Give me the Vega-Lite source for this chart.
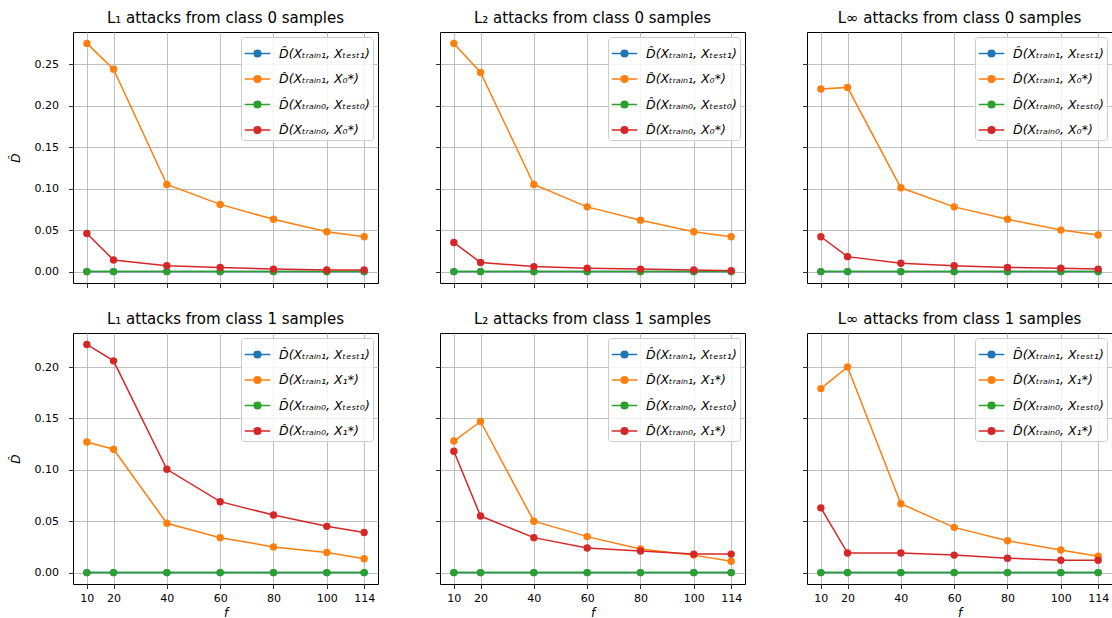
{
  "$schema": "https://vega.github.io/schema/vega-lite/v6.json",
  "background": "white",
  "padding": {"left": 8, "top": 10, "right": 0, "bottom": 0},
  "config": {
    "font": "DejaVu Sans",
    "view": {"stroke": "black", "strokeWidth": 1},
    "axis": {"domain": false, "grid": true, "gridColor": "#b0b0b0", "gridWidth": 0.8, "ticks": true, "tickColor": "black", "tickSize": 4.5, "tickWidth": 0.8, "labelFont": "DejaVu Sans", "labelFontSize": 11, "labelColor": "black", "titleFont": "DejaVu Sans", "titleFontWeight": "normal", "titleFontStyle": "italic", "titleFontSize": 12, "titleColor": "black", "labelOverlap": false},
    "axisX": {"labelFlush": false, "labelPadding": 4, "titlePadding": 4},
    "axisY": {"labelPadding": 10, "titlePadding": 12},
    "title": {"font": "DejaVu Sans", "fontSize": 15, "fontWeight": "normal", "color": "black", "offset": 6, "anchor": "middle"},
    "legend": {"orient": "top-right", "offset": 5, "fillColor": "rgba(255,255,255,0.8)", "strokeColor": "#cccccc", "cornerRadius": 3, "padding": 3, "labelFont": "DejaVu Sans", "labelFontSize": 12.5, "labelFontStyle": "italic", "labelColor": "black", "labelOffset": 8, "rowPadding": 5.5, "labelLimit": 0, "symbolSize": 650, "symbolStrokeWidth": 1.5}
  },
  "datasets": {
    "d": [
      {"p": "L1c0", "s": "b", "f": 10, "D": 0}, {"p": "L1c0", "s": "b", "f": 20, "D": 0}, {"p": "L1c0", "s": "b", "f": 40, "D": 0}, {"p": "L1c0", "s": "b", "f": 60, "D": 0}, {"p": "L1c0", "s": "b", "f": 80, "D": 0}, {"p": "L1c0", "s": "b", "f": 100, "D": 0}, {"p": "L1c0", "s": "b", "f": 114, "D": 0},
      {"p": "L1c0", "s": "o", "f": 10, "D": 0.275}, {"p": "L1c0", "s": "o", "f": 20, "D": 0.244}, {"p": "L1c0", "s": "o", "f": 40, "D": 0.105}, {"p": "L1c0", "s": "o", "f": 60, "D": 0.081}, {"p": "L1c0", "s": "o", "f": 80, "D": 0.063}, {"p": "L1c0", "s": "o", "f": 100, "D": 0.048}, {"p": "L1c0", "s": "o", "f": 114, "D": 0.042},
      {"p": "L1c0", "s": "g", "f": 10, "D": 0}, {"p": "L1c0", "s": "g", "f": 20, "D": 0}, {"p": "L1c0", "s": "g", "f": 40, "D": 0}, {"p": "L1c0", "s": "g", "f": 60, "D": 0}, {"p": "L1c0", "s": "g", "f": 80, "D": 0}, {"p": "L1c0", "s": "g", "f": 100, "D": 0}, {"p": "L1c0", "s": "g", "f": 114, "D": 0},
      {"p": "L1c0", "s": "r", "f": 10, "D": 0.046}, {"p": "L1c0", "s": "r", "f": 20, "D": 0.014}, {"p": "L1c0", "s": "r", "f": 40, "D": 0.007}, {"p": "L1c0", "s": "r", "f": 60, "D": 0.005}, {"p": "L1c0", "s": "r", "f": 80, "D": 0.003}, {"p": "L1c0", "s": "r", "f": 100, "D": 0.002}, {"p": "L1c0", "s": "r", "f": 114, "D": 0.002},

      {"p": "L2c0", "s": "b", "f": 10, "D": 0}, {"p": "L2c0", "s": "b", "f": 20, "D": 0}, {"p": "L2c0", "s": "b", "f": 40, "D": 0}, {"p": "L2c0", "s": "b", "f": 60, "D": 0}, {"p": "L2c0", "s": "b", "f": 80, "D": 0}, {"p": "L2c0", "s": "b", "f": 100, "D": 0}, {"p": "L2c0", "s": "b", "f": 114, "D": 0},
      {"p": "L2c0", "s": "o", "f": 10, "D": 0.275}, {"p": "L2c0", "s": "o", "f": 20, "D": 0.240}, {"p": "L2c0", "s": "o", "f": 40, "D": 0.105}, {"p": "L2c0", "s": "o", "f": 60, "D": 0.078}, {"p": "L2c0", "s": "o", "f": 80, "D": 0.062}, {"p": "L2c0", "s": "o", "f": 100, "D": 0.048}, {"p": "L2c0", "s": "o", "f": 114, "D": 0.042},
      {"p": "L2c0", "s": "g", "f": 10, "D": 0}, {"p": "L2c0", "s": "g", "f": 20, "D": 0}, {"p": "L2c0", "s": "g", "f": 40, "D": 0}, {"p": "L2c0", "s": "g", "f": 60, "D": 0}, {"p": "L2c0", "s": "g", "f": 80, "D": 0}, {"p": "L2c0", "s": "g", "f": 100, "D": 0}, {"p": "L2c0", "s": "g", "f": 114, "D": 0},
      {"p": "L2c0", "s": "r", "f": 10, "D": 0.035}, {"p": "L2c0", "s": "r", "f": 20, "D": 0.011}, {"p": "L2c0", "s": "r", "f": 40, "D": 0.006}, {"p": "L2c0", "s": "r", "f": 60, "D": 0.004}, {"p": "L2c0", "s": "r", "f": 80, "D": 0.003}, {"p": "L2c0", "s": "r", "f": 100, "D": 0.002}, {"p": "L2c0", "s": "r", "f": 114, "D": 0.001},

      {"p": "Lic0", "s": "b", "f": 10, "D": 0}, {"p": "Lic0", "s": "b", "f": 20, "D": 0}, {"p": "Lic0", "s": "b", "f": 40, "D": 0}, {"p": "Lic0", "s": "b", "f": 60, "D": 0}, {"p": "Lic0", "s": "b", "f": 80, "D": 0}, {"p": "Lic0", "s": "b", "f": 100, "D": 0}, {"p": "Lic0", "s": "b", "f": 114, "D": 0},
      {"p": "Lic0", "s": "o", "f": 10, "D": 0.220}, {"p": "Lic0", "s": "o", "f": 20, "D": 0.222}, {"p": "Lic0", "s": "o", "f": 40, "D": 0.101}, {"p": "Lic0", "s": "o", "f": 60, "D": 0.078}, {"p": "Lic0", "s": "o", "f": 80, "D": 0.063}, {"p": "Lic0", "s": "o", "f": 100, "D": 0.050}, {"p": "Lic0", "s": "o", "f": 114, "D": 0.044},
      {"p": "Lic0", "s": "g", "f": 10, "D": 0}, {"p": "Lic0", "s": "g", "f": 20, "D": 0}, {"p": "Lic0", "s": "g", "f": 40, "D": 0}, {"p": "Lic0", "s": "g", "f": 60, "D": 0}, {"p": "Lic0", "s": "g", "f": 80, "D": 0}, {"p": "Lic0", "s": "g", "f": 100, "D": 0}, {"p": "Lic0", "s": "g", "f": 114, "D": 0},
      {"p": "Lic0", "s": "r", "f": 10, "D": 0.042}, {"p": "Lic0", "s": "r", "f": 20, "D": 0.018}, {"p": "Lic0", "s": "r", "f": 40, "D": 0.010}, {"p": "Lic0", "s": "r", "f": 60, "D": 0.007}, {"p": "Lic0", "s": "r", "f": 80, "D": 0.005}, {"p": "Lic0", "s": "r", "f": 100, "D": 0.004}, {"p": "Lic0", "s": "r", "f": 114, "D": 0.003},

      {"p": "L1c1", "s": "b", "f": 10, "D": 0}, {"p": "L1c1", "s": "b", "f": 20, "D": 0}, {"p": "L1c1", "s": "b", "f": 40, "D": 0}, {"p": "L1c1", "s": "b", "f": 60, "D": 0}, {"p": "L1c1", "s": "b", "f": 80, "D": 0}, {"p": "L1c1", "s": "b", "f": 100, "D": 0}, {"p": "L1c1", "s": "b", "f": 114, "D": 0},
      {"p": "L1c1", "s": "o", "f": 10, "D": 0.127}, {"p": "L1c1", "s": "o", "f": 20, "D": 0.120}, {"p": "L1c1", "s": "o", "f": 40, "D": 0.048}, {"p": "L1c1", "s": "o", "f": 60, "D": 0.034}, {"p": "L1c1", "s": "o", "f": 80, "D": 0.025}, {"p": "L1c1", "s": "o", "f": 100, "D": 0.0195}, {"p": "L1c1", "s": "o", "f": 114, "D": 0.0135},
      {"p": "L1c1", "s": "g", "f": 10, "D": 0}, {"p": "L1c1", "s": "g", "f": 20, "D": 0}, {"p": "L1c1", "s": "g", "f": 40, "D": 0}, {"p": "L1c1", "s": "g", "f": 60, "D": 0}, {"p": "L1c1", "s": "g", "f": 80, "D": 0}, {"p": "L1c1", "s": "g", "f": 100, "D": 0}, {"p": "L1c1", "s": "g", "f": 114, "D": 0},
      {"p": "L1c1", "s": "r", "f": 10, "D": 0.222}, {"p": "L1c1", "s": "r", "f": 20, "D": 0.206}, {"p": "L1c1", "s": "r", "f": 40, "D": 0.1005}, {"p": "L1c1", "s": "r", "f": 60, "D": 0.069}, {"p": "L1c1", "s": "r", "f": 80, "D": 0.056}, {"p": "L1c1", "s": "r", "f": 100, "D": 0.045}, {"p": "L1c1", "s": "r", "f": 114, "D": 0.039},

      {"p": "L2c1", "s": "b", "f": 10, "D": 0}, {"p": "L2c1", "s": "b", "f": 20, "D": 0}, {"p": "L2c1", "s": "b", "f": 40, "D": 0}, {"p": "L2c1", "s": "b", "f": 60, "D": 0}, {"p": "L2c1", "s": "b", "f": 80, "D": 0}, {"p": "L2c1", "s": "b", "f": 100, "D": 0}, {"p": "L2c1", "s": "b", "f": 114, "D": 0},
      {"p": "L2c1", "s": "o", "f": 10, "D": 0.128}, {"p": "L2c1", "s": "o", "f": 20, "D": 0.147}, {"p": "L2c1", "s": "o", "f": 40, "D": 0.050}, {"p": "L2c1", "s": "o", "f": 60, "D": 0.035}, {"p": "L2c1", "s": "o", "f": 80, "D": 0.023}, {"p": "L2c1", "s": "o", "f": 100, "D": 0.017}, {"p": "L2c1", "s": "o", "f": 114, "D": 0.011},
      {"p": "L2c1", "s": "g", "f": 10, "D": 0}, {"p": "L2c1", "s": "g", "f": 20, "D": 0}, {"p": "L2c1", "s": "g", "f": 40, "D": 0}, {"p": "L2c1", "s": "g", "f": 60, "D": 0}, {"p": "L2c1", "s": "g", "f": 80, "D": 0}, {"p": "L2c1", "s": "g", "f": 100, "D": 0}, {"p": "L2c1", "s": "g", "f": 114, "D": 0},
      {"p": "L2c1", "s": "r", "f": 10, "D": 0.118}, {"p": "L2c1", "s": "r", "f": 20, "D": 0.055}, {"p": "L2c1", "s": "r", "f": 40, "D": 0.034}, {"p": "L2c1", "s": "r", "f": 60, "D": 0.024}, {"p": "L2c1", "s": "r", "f": 80, "D": 0.021}, {"p": "L2c1", "s": "r", "f": 100, "D": 0.018}, {"p": "L2c1", "s": "r", "f": 114, "D": 0.018},

      {"p": "Lic1", "s": "b", "f": 10, "D": 0}, {"p": "Lic1", "s": "b", "f": 20, "D": 0}, {"p": "Lic1", "s": "b", "f": 40, "D": 0}, {"p": "Lic1", "s": "b", "f": 60, "D": 0}, {"p": "Lic1", "s": "b", "f": 80, "D": 0}, {"p": "Lic1", "s": "b", "f": 100, "D": 0}, {"p": "Lic1", "s": "b", "f": 114, "D": 0},
      {"p": "Lic1", "s": "o", "f": 10, "D": 0.179}, {"p": "Lic1", "s": "o", "f": 20, "D": 0.200}, {"p": "Lic1", "s": "o", "f": 40, "D": 0.067}, {"p": "Lic1", "s": "o", "f": 60, "D": 0.044}, {"p": "Lic1", "s": "o", "f": 80, "D": 0.031}, {"p": "Lic1", "s": "o", "f": 100, "D": 0.022}, {"p": "Lic1", "s": "o", "f": 114, "D": 0.016},
      {"p": "Lic1", "s": "g", "f": 10, "D": 0}, {"p": "Lic1", "s": "g", "f": 20, "D": 0}, {"p": "Lic1", "s": "g", "f": 40, "D": 0}, {"p": "Lic1", "s": "g", "f": 60, "D": 0}, {"p": "Lic1", "s": "g", "f": 80, "D": 0}, {"p": "Lic1", "s": "g", "f": 100, "D": 0}, {"p": "Lic1", "s": "g", "f": 114, "D": 0},
      {"p": "Lic1", "s": "r", "f": 10, "D": 0.063}, {"p": "Lic1", "s": "r", "f": 20, "D": 0.019}, {"p": "Lic1", "s": "r", "f": 40, "D": 0.019}, {"p": "Lic1", "s": "r", "f": 60, "D": 0.017}, {"p": "Lic1", "s": "r", "f": 80, "D": 0.014}, {"p": "Lic1", "s": "r", "f": 100, "D": 0.012}, {"p": "Lic1", "s": "r", "f": 114, "D": 0.012}
    ]
  },
  "data": {"name": "d"},
  "columns": 3,
  "spacing": {"row": 50, "column": 62},
  "bounds": "flush",
  "resolve": {"scale": {"x": "independent", "y": "independent", "color": "independent"}, "axis": {"x": "independent", "y": "independent"}, "legend": {"color": "independent"}},
  "concat": [
    {
      "width": 305, "height": 251,
      "title": "L₁ attacks from class 0 samples",
      "transform": [{"filter": "datum.p == 'L1c0'"}],
      "mark": {"type": "line", "strokeWidth": 1.5, "point": {"filled": true, "size": 55, "opacity": 1}},
      "encoding": {
        "x": {"field": "f", "type": "quantitative", "scale": {"domain": [4.8, 119.2], "nice": false, "zero": false}, "axis": {"values": [10, 20, 40, 60, 80, 100, 114], "labels": false, "title": null}},
        "y": {"field": "D", "type": "quantitative", "scale": {"domain": [-0.01375, 0.28875], "nice": false, "zero": false}, "axis": {"values": [0, 0.05, 0.1, 0.15, 0.2, 0.25], "format": ".2f", "title": "D̂"}},
        "color": {"field": "s", "type": "nominal", "sort": null, "scale": {"domain": ["b", "o", "g", "r"], "range": ["#1f77b4", "#ff7f0e", "#2ca02c", "#d62728"]}, "legend": {"title": null, "symbolType": "M-1,0H1M-0.04,0A0.04,0.04 0 1,0 0.04,0A0.04,0.04 0 1,0 -0.04,0M-0.12,0A0.12,0.12 0 1,0 0.12,0A0.12,0.12 0 1,0 -0.12,0M-0.2,0A0.2,0.2 0 1,0 0.2,0A0.2,0.2 0 1,0 -0.2,0M-0.26,0A0.26,0.26 0 1,0 0.26,0A0.26,0.26 0 1,0 -0.26,0", "labelExpr": "datum.value == 'b' ? 'D̂(Xₜᵣₐᵢₙ₁, Xₜₑₛₜ₁)' : datum.value == 'o' ? 'D̂(Xₜᵣₐᵢₙ₁, X₀*)' : datum.value == 'g' ? 'D̂(Xₜᵣₐᵢₙ₀, Xₜₑₛₜ₀)' : 'D̂(Xₜᵣₐᵢₙ₀, X₀*)'"}}
      }
    },
    {
      "width": 305, "height": 251,
      "title": "L₂ attacks from class 0 samples",
      "transform": [{"filter": "datum.p == 'L2c0'"}],
      "mark": {"type": "line", "strokeWidth": 1.5, "point": {"filled": true, "size": 55, "opacity": 1}},
      "encoding": {
        "x": {"field": "f", "type": "quantitative", "scale": {"domain": [4.8, 119.2], "nice": false, "zero": false}, "axis": {"values": [10, 20, 40, 60, 80, 100, 114], "labels": false, "title": null}},
        "y": {"field": "D", "type": "quantitative", "scale": {"domain": [-0.01375, 0.28875], "nice": false, "zero": false}, "axis": {"values": [0, 0.05, 0.1, 0.15, 0.2, 0.25], "labels": false, "title": null}},
        "color": {"field": "s", "type": "nominal", "sort": null, "scale": {"domain": ["b", "o", "g", "r"], "range": ["#1f77b4", "#ff7f0e", "#2ca02c", "#d62728"]}, "legend": {"title": null, "symbolType": "M-1,0H1M-0.04,0A0.04,0.04 0 1,0 0.04,0A0.04,0.04 0 1,0 -0.04,0M-0.12,0A0.12,0.12 0 1,0 0.12,0A0.12,0.12 0 1,0 -0.12,0M-0.2,0A0.2,0.2 0 1,0 0.2,0A0.2,0.2 0 1,0 -0.2,0M-0.26,0A0.26,0.26 0 1,0 0.26,0A0.26,0.26 0 1,0 -0.26,0", "labelExpr": "datum.value == 'b' ? 'D̂(Xₜᵣₐᵢₙ₁, Xₜₑₛₜ₁)' : datum.value == 'o' ? 'D̂(Xₜᵣₐᵢₙ₁, X₀*)' : datum.value == 'g' ? 'D̂(Xₜᵣₐᵢₙ₀, Xₜₑₛₜ₀)' : 'D̂(Xₜᵣₐᵢₙ₀, X₀*)'"}}
      }
    },
    {
      "width": 305, "height": 251,
      "title": "L∞ attacks from class 0 samples",
      "transform": [{"filter": "datum.p == 'Lic0'"}],
      "mark": {"type": "line", "strokeWidth": 1.5, "point": {"filled": true, "size": 55, "opacity": 1}},
      "encoding": {
        "x": {"field": "f", "type": "quantitative", "scale": {"domain": [4.8, 119.2], "nice": false, "zero": false}, "axis": {"values": [10, 20, 40, 60, 80, 100, 114], "labels": false, "title": null}},
        "y": {"field": "D", "type": "quantitative", "scale": {"domain": [-0.01375, 0.28875], "nice": false, "zero": false}, "axis": {"values": [0, 0.05, 0.1, 0.15, 0.2, 0.25], "labels": false, "title": null}},
        "color": {"field": "s", "type": "nominal", "sort": null, "scale": {"domain": ["b", "o", "g", "r"], "range": ["#1f77b4", "#ff7f0e", "#2ca02c", "#d62728"]}, "legend": {"title": null, "symbolType": "M-1,0H1M-0.04,0A0.04,0.04 0 1,0 0.04,0A0.04,0.04 0 1,0 -0.04,0M-0.12,0A0.12,0.12 0 1,0 0.12,0A0.12,0.12 0 1,0 -0.12,0M-0.2,0A0.2,0.2 0 1,0 0.2,0A0.2,0.2 0 1,0 -0.2,0M-0.26,0A0.26,0.26 0 1,0 0.26,0A0.26,0.26 0 1,0 -0.26,0", "labelExpr": "datum.value == 'b' ? 'D̂(Xₜᵣₐᵢₙ₁, Xₜₑₛₜ₁)' : datum.value == 'o' ? 'D̂(Xₜᵣₐᵢₙ₁, X₀*)' : datum.value == 'g' ? 'D̂(Xₜᵣₐᵢₙ₀, Xₜₑₛₜ₀)' : 'D̂(Xₜᵣₐᵢₙ₀, X₀*)'"}}
      }
    },
    {
      "width": 305, "height": 251,
      "title": "L₁ attacks from class 1 samples",
      "transform": [{"filter": "datum.p == 'L1c1'"}],
      "mark": {"type": "line", "strokeWidth": 1.5, "point": {"filled": true, "size": 55, "opacity": 1}},
      "encoding": {
        "x": {"field": "f", "type": "quantitative", "scale": {"domain": [4.8, 119.2], "nice": false, "zero": false}, "axis": {"values": [10, 20, 40, 60, 80, 100, 114], "title": "f"}},
        "y": {"field": "D", "type": "quantitative", "scale": {"domain": [-0.0111, 0.2331], "nice": false, "zero": false}, "axis": {"values": [0, 0.05, 0.1, 0.15, 0.2], "format": ".2f", "title": "D̂"}},
        "color": {"field": "s", "type": "nominal", "sort": null, "scale": {"domain": ["b", "o", "g", "r"], "range": ["#1f77b4", "#ff7f0e", "#2ca02c", "#d62728"]}, "legend": {"title": null, "symbolType": "M-1,0H1M-0.04,0A0.04,0.04 0 1,0 0.04,0A0.04,0.04 0 1,0 -0.04,0M-0.12,0A0.12,0.12 0 1,0 0.12,0A0.12,0.12 0 1,0 -0.12,0M-0.2,0A0.2,0.2 0 1,0 0.2,0A0.2,0.2 0 1,0 -0.2,0M-0.26,0A0.26,0.26 0 1,0 0.26,0A0.26,0.26 0 1,0 -0.26,0", "labelExpr": "datum.value == 'b' ? 'D̂(Xₜᵣₐᵢₙ₁, Xₜₑₛₜ₁)' : datum.value == 'o' ? 'D̂(Xₜᵣₐᵢₙ₁, X₁*)' : datum.value == 'g' ? 'D̂(Xₜᵣₐᵢₙ₀, Xₜₑₛₜ₀)' : 'D̂(Xₜᵣₐᵢₙ₀, X₁*)'"}}
      }
    },
    {
      "width": 305, "height": 251,
      "title": "L₂ attacks from class 1 samples",
      "transform": [{"filter": "datum.p == 'L2c1'"}],
      "mark": {"type": "line", "strokeWidth": 1.5, "point": {"filled": true, "size": 55, "opacity": 1}},
      "encoding": {
        "x": {"field": "f", "type": "quantitative", "scale": {"domain": [4.8, 119.2], "nice": false, "zero": false}, "axis": {"values": [10, 20, 40, 60, 80, 100, 114], "title": "f"}},
        "y": {"field": "D", "type": "quantitative", "scale": {"domain": [-0.0111, 0.2331], "nice": false, "zero": false}, "axis": {"values": [0, 0.05, 0.1, 0.15, 0.2], "labels": false, "title": null}},
        "color": {"field": "s", "type": "nominal", "sort": null, "scale": {"domain": ["b", "o", "g", "r"], "range": ["#1f77b4", "#ff7f0e", "#2ca02c", "#d62728"]}, "legend": {"title": null, "symbolType": "M-1,0H1M-0.04,0A0.04,0.04 0 1,0 0.04,0A0.04,0.04 0 1,0 -0.04,0M-0.12,0A0.12,0.12 0 1,0 0.12,0A0.12,0.12 0 1,0 -0.12,0M-0.2,0A0.2,0.2 0 1,0 0.2,0A0.2,0.2 0 1,0 -0.2,0M-0.26,0A0.26,0.26 0 1,0 0.26,0A0.26,0.26 0 1,0 -0.26,0", "labelExpr": "datum.value == 'b' ? 'D̂(Xₜᵣₐᵢₙ₁, Xₜₑₛₜ₁)' : datum.value == 'o' ? 'D̂(Xₜᵣₐᵢₙ₁, X₁*)' : datum.value == 'g' ? 'D̂(Xₜᵣₐᵢₙ₀, Xₜₑₛₜ₀)' : 'D̂(Xₜᵣₐᵢₙ₀, X₁*)'"}}
      }
    },
    {
      "width": 305, "height": 251,
      "title": "L∞ attacks from class 1 samples",
      "transform": [{"filter": "datum.p == 'Lic1'"}],
      "mark": {"type": "line", "strokeWidth": 1.5, "point": {"filled": true, "size": 55, "opacity": 1}},
      "encoding": {
        "x": {"field": "f", "type": "quantitative", "scale": {"domain": [4.8, 119.2], "nice": false, "zero": false}, "axis": {"values": [10, 20, 40, 60, 80, 100, 114], "title": "f"}},
        "y": {"field": "D", "type": "quantitative", "scale": {"domain": [-0.0111, 0.2331], "nice": false, "zero": false}, "axis": {"values": [0, 0.05, 0.1, 0.15, 0.2], "labels": false, "title": null}},
        "color": {"field": "s", "type": "nominal", "sort": null, "scale": {"domain": ["b", "o", "g", "r"], "range": ["#1f77b4", "#ff7f0e", "#2ca02c", "#d62728"]}, "legend": {"title": null, "symbolType": "M-1,0H1M-0.04,0A0.04,0.04 0 1,0 0.04,0A0.04,0.04 0 1,0 -0.04,0M-0.12,0A0.12,0.12 0 1,0 0.12,0A0.12,0.12 0 1,0 -0.12,0M-0.2,0A0.2,0.2 0 1,0 0.2,0A0.2,0.2 0 1,0 -0.2,0M-0.26,0A0.26,0.26 0 1,0 0.26,0A0.26,0.26 0 1,0 -0.26,0", "labelExpr": "datum.value == 'b' ? 'D̂(Xₜᵣₐᵢₙ₁, Xₜₑₛₜ₁)' : datum.value == 'o' ? 'D̂(Xₜᵣₐᵢₙ₁, X₁*)' : datum.value == 'g' ? 'D̂(Xₜᵣₐᵢₙ₀, Xₜₑₛₜ₀)' : 'D̂(Xₜᵣₐᵢₙ₀, X₁*)'"}}
      }
    }
  ]
}
